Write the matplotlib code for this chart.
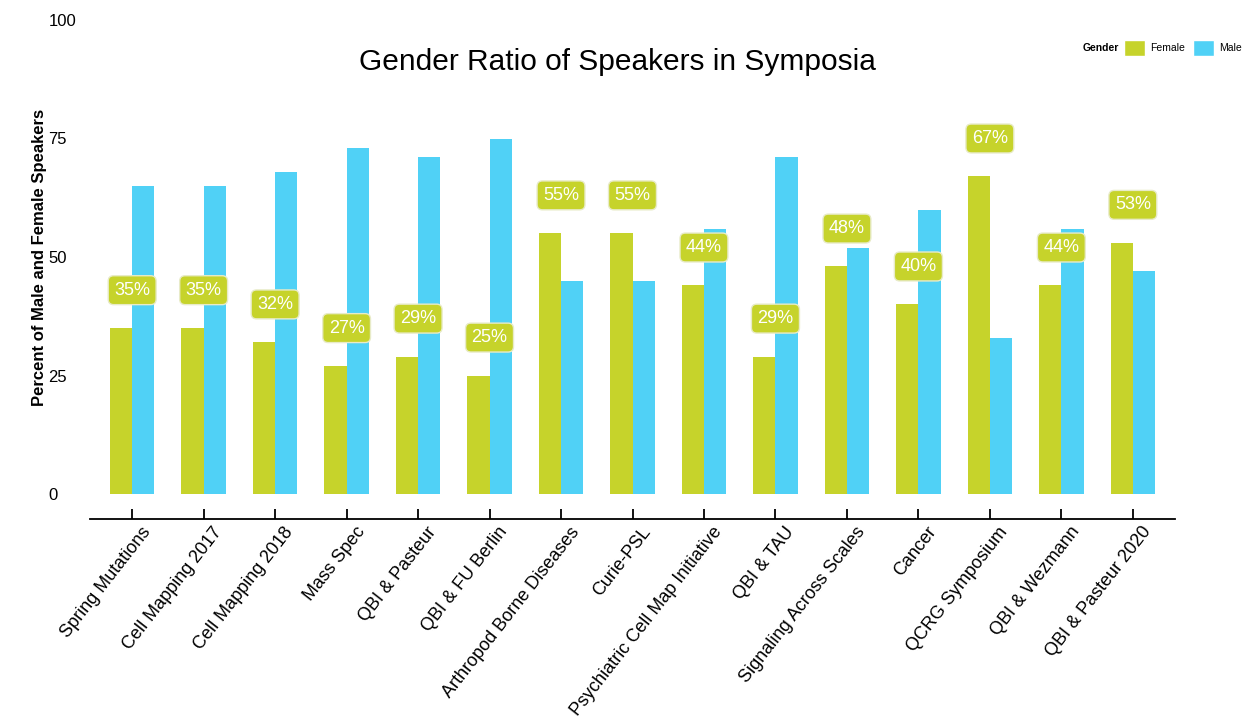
import matplotlib
matplotlib.use('Agg')
import matplotlib.pyplot as plt
import matplotlib.transforms as mtransforms
from matplotlib.patches import Patch
import numpy as np

symposia = ['Spring Mutations', 'Cell Mapping 2017', 'Cell Mapping 2018', 'Mass Spec',
            'QBI & Pasteur', 'QBI & FU Berlin', 'Arthropod Borne Diseases', 'Curie-PSL',
            'Psychiatric Cell Map Initiative', 'QBI & TAU', 'Signaling Across Scales',
            'Cancer', 'QCRG Symposium', 'QBI & Wezmann', 'QBI & Pasteur 2020']
female = [35, 35, 32, 27, 29, 25, 55, 55, 44, 29, 48, 40, 67, 44, 53]
male = [65, 65, 68, 73, 71, 75, 45, 45, 56, 71, 52, 60, 33, 56, 47]
y_ticks = [0, 25, 50, 75, 100]

female_color = '#c6d32b'
male_color = '#50d1f6'

plt.rcParams['font.family'] = ['Liberation Sans', 'DejaVu Sans']

fig = plt.figure(figsize=(12.6, 7.27), dpi=100)
ax = fig.add_axes([90 / 1260, 233 / 727, 1085 / 1260, 474 / 727])

# spine position first: moving it resets the tick objects
for s in ['top', 'right', 'left']:
    ax.spines[s].set_visible(False)
ax.spines['bottom'].set_position(('outward', 17.8))
ax.spines['bottom'].set_linewidth(1.3)

x = np.arange(len(symposia))
w = 0.31
ax.bar(x - w / 2, female, width=w, color=female_color)
ax.bar(x + w / 2, male, width=w, color=male_color)

# percent labels over each group
for xi, f in zip(x, female):
    ax.text(xi, f + 8, f'{f}%', ha='center', va='center', fontsize=13, color='white',
            bbox=dict(boxstyle='round,pad=0.33,rounding_size=0.3', fc=female_color,
                      ec='#e8ebc8', lw=1))

ax.set_xlim(-0.59, 14.59)
ax.set_ylim(0, 100)
ax.set_xticks(x)
ax.set_xticklabels(symposia, rotation=52, ha='right', va='top', rotation_mode='anchor')
ax.set_yticks(y_ticks)
ax.set_yticklabels([str(v) for v in y_ticks], ha='left')
ax.tick_params(axis='y', length=0, pad=30, labelsize=12)
ax.tick_params(axis='x', direction='in', length=7, width=1.3, pad=3.5, labelsize=13)

# nudge the rotated labels a little to the right
shift = mtransforms.ScaledTranslation(6 / 72, 0, fig.dpi_scale_trans)
for lbl in ax.get_xticklabels():
    lbl.set_transform(lbl.get_transform() + shift)

ax.set_ylabel('Percent of Male and Female Speakers', fontsize=12, fontweight='bold')
ax.yaxis.set_label_coords(-0.04, 0.5)

fig.text(617 / 1260, 1 - 62 / 727, 'Gender Ratio of Speakers in Symposia',
         ha='center', va='center', fontsize=21.5)

fig.text(1083 / 1260, 1 - 48 / 727, 'Gender', ha='left', va='center',
         fontsize=7.5, fontweight='bold')
handles = [Patch(facecolor=female_color, edgecolor='white', label='Female'),
           Patch(facecolor=male_color, edgecolor='white', label='Male')]
fig.legend(handles=handles, loc='center left', bbox_to_anchor=(1124 / 1260, 1 - 48 / 727),
           ncol=2, frameon=False, fontsize=7.5, handlelength=2.0, handleheight=2.0,
           handletextpad=0.5, columnspacing=0.8, borderpad=0, borderaxespad=0)

fig.savefig('out.png', dpi=100)
